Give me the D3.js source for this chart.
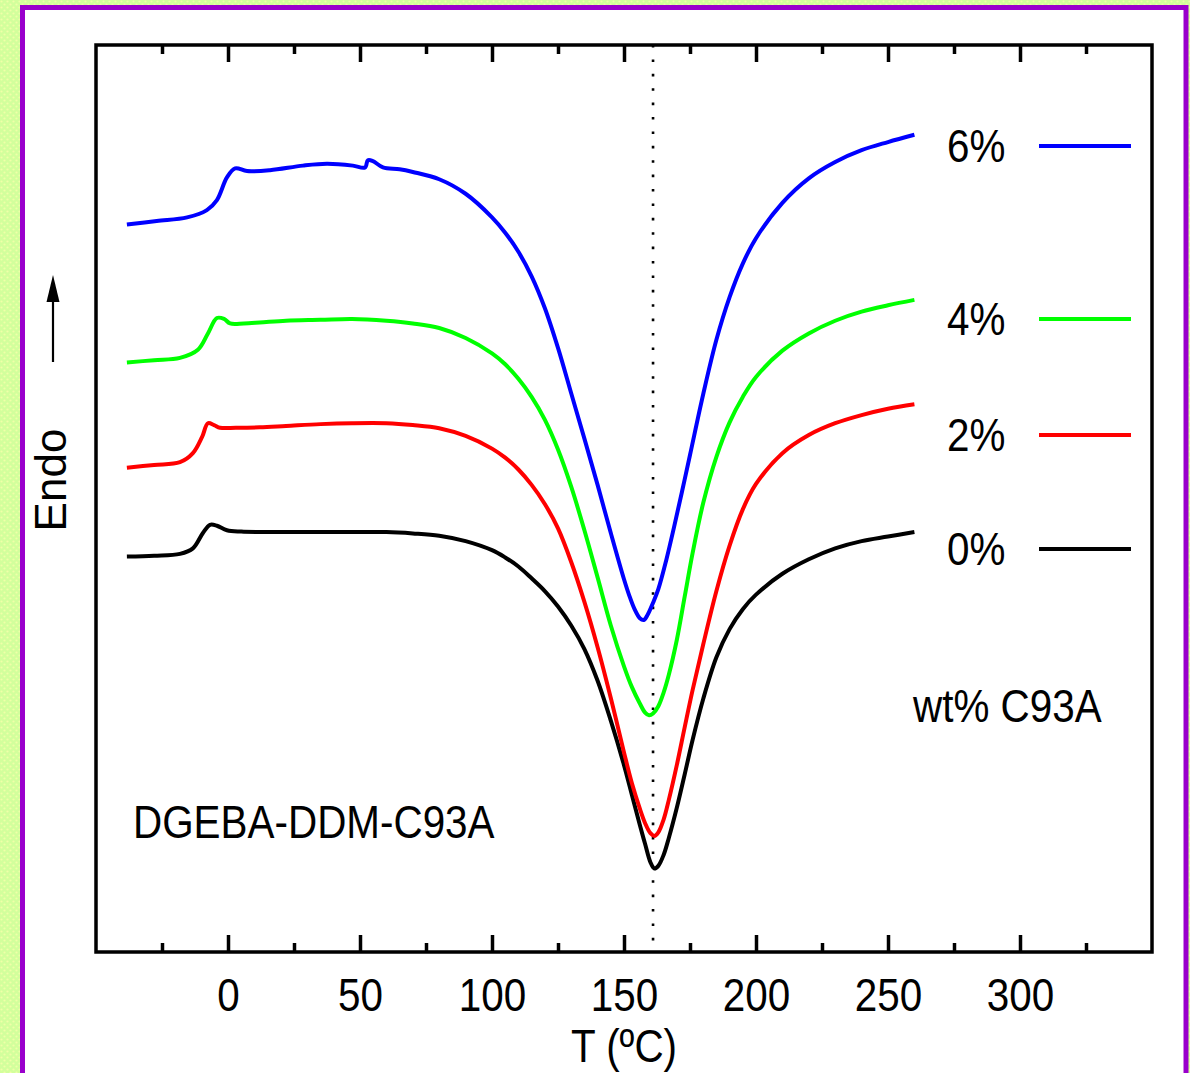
<!DOCTYPE html>
<html><head><meta charset="utf-8">
<script src="https://cdn.jsdelivr.net/npm/d3@7"></script>
<style>html,body{margin:0;padding:0;background:#fff;} svg{display:block;}</style>
</head><body>
<svg id="c" width="1190" height="1073"></svg>
<script>
// ---------- data ----------
const seriesNames = ["0%", "2%", "4%", "6%"];
const seriesColors = ["#000000", "#ff0000", "#00ff00", "#0000ff"];
const xTicksMajor = [0, 50, 100, 150, 200, 250, 300];
const xTicksMinor = [-25, 25, 75, 125, 175, 225, 275, 325];
const peakTemp = 161;   // dotted reference line, °C
// [T (°C), heat flow (a.u., endo up)]
const curve0 = [[-38.3,43.6],[-28,43.7],[-18.2,43.9],[-13.3,44.5],[-9.5,46.2],[-6.8,47.1],[-4.2,47.0],[-0.4,46.5],[5,46.35],[12,46.3],[22,46.3],[35,46.3],[47,46.3],[60,46.3],[70,46.15],[80,45.9],[90,45.3],[100,44.3],[105,43.5],[110,42.5],[115,41.2],[120,39.8],[125,38.1],[130,36.0],[135,33.4],[140,29.9],[145,25.5],[150,20.6],[153,17.3],[156,14.0],[158,11.9],[160,9.9],[161.5,9.2],[163,9.5],[165,10.7],[167,12.6],[170,15.9],[173,19.6],[176,23.4],[180,27.9],[185,32.5],[190,35.6],[195,37.8],[200,39.4],[210,41.7],[220,43.3],[230,44.5],[240,45.3],[250,45.8],[260,46.3]];
const curve2 = [[-38.3,53.4],[-28,53.7],[-18.2,54.0],[-13.3,55.0],[-9.8,56.8],[-7.6,58.3],[-5.3,58.1],[-3.0,57.8],[3,57.8],[12,57.85],[22,58.0],[35,58.2],[47,58.3],[60,58.3],[70,58.1],[80,57.75],[90,56.9],[100,55.5],[105,54.5],[110,53.2],[115,51.5],[120,49.4],[125,46.7],[130,43.0],[135,38.6],[140,33.6],[145,28.0],[150,22.0],[153,18.6],[156,15.8],[158,14.2],[160,13.1],[161.5,12.8],[163,13.2],[165,14.6],[167,16.8],[170,20.6],[173,24.8],[176,28.9],[180,33.9],[185,39.8],[190,44.8],[195,48.8],[200,51.6],[210,55.0],[220,57.0],[230,58.3],[240,59.2],[250,59.9],[260,60.4]];
const curve4 = [[-38.3,65.0],[-28,65.25],[-18.2,65.5],[-11.4,66.4],[-7.6,68.2],[-4.2,69.9],[-1.5,69.8],[0.8,69.3],[6,69.3],[12,69.4],[22,69.6],[35,69.7],[47,69.8],[60,69.6],[70,69.3],[80,68.8],[90,67.7],[100,66.0],[105,64.8],[110,63.2],[115,61.2],[120,58.7],[125,55.4],[130,51.3],[135,46.5],[140,41.3],[145,36.0],[150,31.5],[153,29.2],[156,27.4],[158,26.4],[159.5,26.1],[161,26.3],[163,27.1],[165,28.6],[167,30.6],[170,34.4],[173,39.2],[176,44.0],[180,49.5],[185,54.6],[190,58.4],[195,61.2],[200,63.4],[210,66.3],[220,68.2],[230,69.6],[240,70.6],[250,71.3],[260,71.9]];
const curve6 = [[-38.3,80.2],[-27,80.6],[-15.5,81.0],[-8,81.8],[-4.2,82.9],[-0.4,85.4],[2.7,86.4],[7.2,86.1],[15.9,86.2],[28.4,86.7],[37.5,86.9],[47.3,86.7],[51.9,86.5],[53.0,87.3],[54.9,87.2],[58.7,86.5],[65,86.3],[70,86.0],[80,85.2],[90,83.6],[100,81.0],[105,79.3],[110,77.2],[115,74.5],[120,71.0],[125,66.6],[130,61.6],[135,56.6],[140,51.5],[145,46.2],[150,41.1],[152,39.3],[154,37.8],[156,36.8],[157.5,36.6],[159,37.2],[161,38.5],[163,40.0],[166,43.2],[169,46.9],[172,50.8],[175,54.8],[180,61.5],[185,67.5],[190,72.2],[195,75.9],[200,78.7],[210,82.6],[220,85.3],[230,87.1],[240,88.4],[250,89.3],[260,90.1]];
const allCurves = [curve0, curve2, curve4, curve6];

// ---------- layout ----------
const svg = d3.select("#c");
const W = 1190, H = 1073;
const X0 = 96, X1 = 1152, Y0 = 952, Y1 = 45;
const FONT = "'Liberation Sans', Arial, Helvetica, sans-serif";
const SX = 0.86;

// background frame
const defs = svg.append("defs");
const pat = defs.append("pattern").attr("id","dots").attr("width",6).attr("height",6).attr("patternUnits","userSpaceOnUse");
pat.append("rect").attr("width",6).attr("height",6).attr("fill","#d2ff9c");
pat.append("circle").attr("cx",1.5).attr("cy",1.5).attr("r",1.1).attr("fill","#f0ffa8");
pat.append("circle").attr("cx",4.5).attr("cy",4.5).attr("r",1.1).attr("fill","#f0ffa8");
svg.append("rect").attr("width",W).attr("height",H).attr("fill","url(#dots)");
svg.append("rect").attr("x",22.5).attr("y",7.5).attr("width",1186-22.5).attr("height",H+20)
  .attr("fill","#fff").attr("stroke","#9a00cc").attr("stroke-width",5);

// scales
const x = d3.scaleLinear().domain([-50, 350]).range([X0, X1]);
const y = d3.scaleLinear().domain([0, 100]).range([Y0, Y1]);

// dotted reference line
svg.append("line").attr("x1",x(peakTemp)).attr("x2",x(peakTemp)).attr("y1",y(100)).attr("y2",y(0))
  .attr("stroke","#000").attr("stroke-width",2.6).attr("stroke-dasharray","2.6 11.8");

// curves
const line = d3.line().x(d => x(d[0])).y(d => y(d[1])).curve(d3.curveCatmullRom.alpha(0.5));
allCurves.forEach((c, i) => {
  svg.append("path").datum(c).attr("d", line).attr("fill","none")
    .attr("stroke", seriesColors[i]).attr("stroke-width", 4).attr("stroke-linejoin","round");
});

// axes
function styleAxis(g){
  g.select(".domain").remove();
  g.selectAll("line").attr("stroke","#000").attr("stroke-width",3.5);
  g.selectAll("text").attr("font-family",FONT).attr("font-size",47).attr("fill","#000")
    .attr("transform",`scale(${SX},1)`);
}
svg.append("g").attr("transform",`translate(0,${Y0})`)
  .call(d3.axisBottom(x).tickValues(xTicksMajor).tickSizeInner(-17).tickSizeOuter(0).tickPadding(26).tickFormat(d3.format("d")))
  .call(styleAxis);
svg.append("g").attr("transform",`translate(0,${Y0})`)
  .call(d3.axisBottom(x).tickValues(xTicksMinor).tickSizeInner(-9).tickSizeOuter(0).tickFormat(""))
  .call(styleAxis);
svg.append("g").attr("transform",`translate(0,${Y1})`)
  .call(d3.axisTop(x).tickValues(xTicksMajor).tickSizeInner(-17).tickSizeOuter(0).tickFormat(""))
  .call(styleAxis);
svg.append("g").attr("transform",`translate(0,${Y1})`)
  .call(d3.axisTop(x).tickValues(xTicksMinor).tickSizeInner(-9).tickSizeOuter(0).tickFormat(""))
  .call(styleAxis);

// frame
svg.append("rect").attr("x",x(-50)).attr("y",y(100)).attr("width",x(350)-x(-50)).attr("height",y(0)-y(100))
  .attr("fill","none").attr("stroke","#000").attr("stroke-width",3.5);

// text helper
function label(px, py, str, anchor, size){
  svg.append("g").attr("transform",`translate(${px},${py}) scale(${SX},1)`)
    .append("text").attr("text-anchor",anchor||"start").attr("font-family",FONT)
    .attr("font-size",size||47).attr("fill","#000").text(str);
}
label(x(150), 1062, "T (ºC)", "middle");
label(133, 838, "DGEBA-DDM-C93A", "start");
label(913, 722, "wt% C93A", "start");

// legend: labels next to curve ends
const legendBase = [565, 451, 335, 162];
seriesNames.forEach((n, i) => {
  label(947, legendBase[i], n, "start");
  svg.append("line").attr("x1",1039).attr("x2",1131).attr("y1",legendBase[i]-16).attr("y2",legendBase[i]-16)
    .attr("stroke",seriesColors[i]).attr("stroke-width",4);
});

// y label "Endo" with arrow
svg.append("text").attr("transform","translate(66,480) rotate(-90)").attr("text-anchor","middle")
  .attr("font-family",FONT).attr("font-size",44).attr("fill","#000").text("Endo");
svg.append("path").attr("d","M53,362 L53,300").attr("stroke","#000").attr("stroke-width",2.2).attr("fill","none");
svg.append("path").attr("d","M46.5,302 L53,275 L59.5,302 Z").attr("fill","#000");
</script>
</body></html>
